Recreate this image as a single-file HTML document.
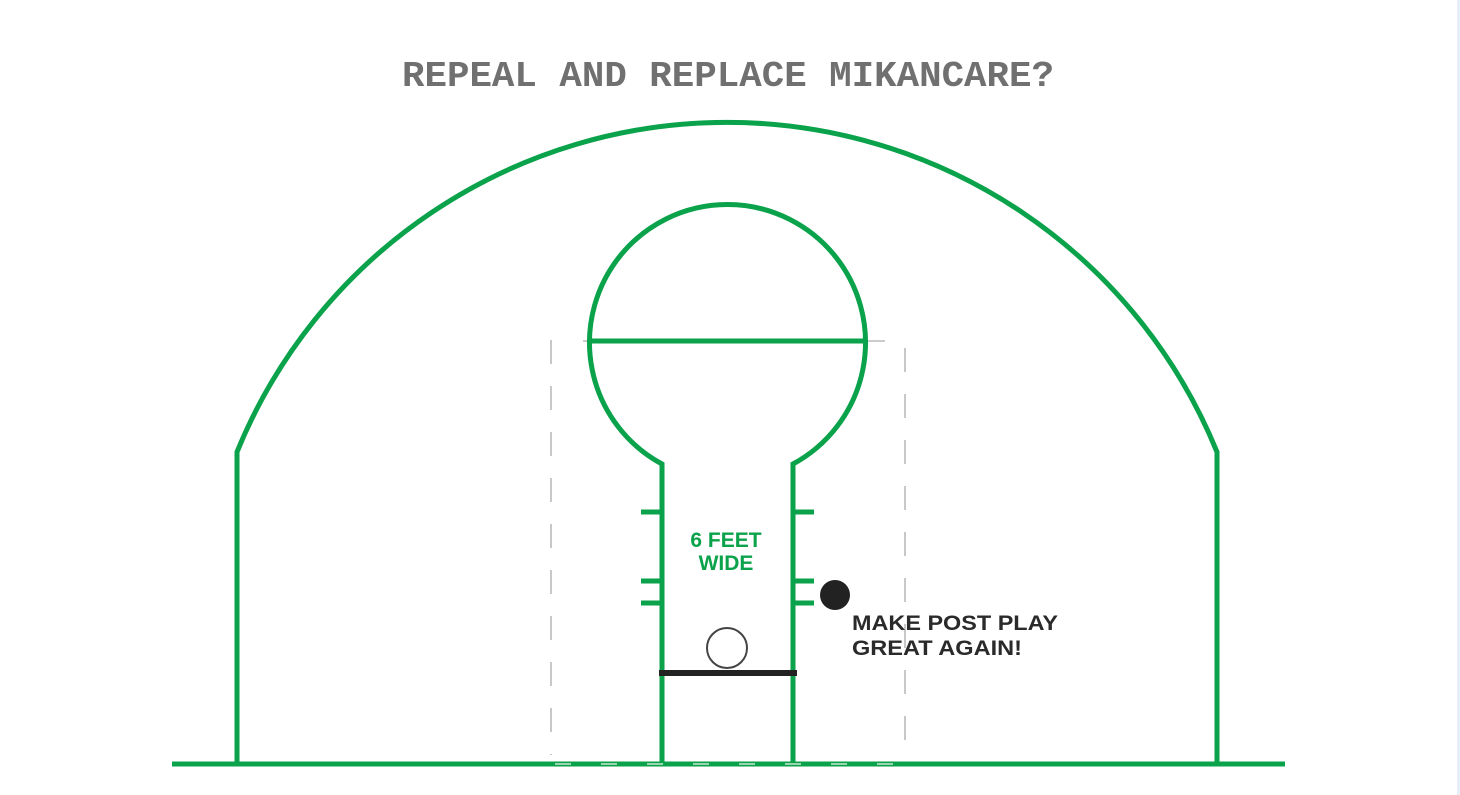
<!DOCTYPE html>
<html><head><meta charset="utf-8"><style>
html,body{margin:0;padding:0;background:#fff;}
body{width:1460px;height:795px;overflow:hidden;position:relative;}
</style></head><body>
<div style="position:absolute;left:1457px;top:0;width:3px;height:795px;background:#e8eef8"></div>
<svg width="1460" height="795" style="position:absolute;left:0;top:0" xmlns="http://www.w3.org/2000/svg">
<text x="728" y="86" text-anchor="middle" font-family="Liberation Mono, monospace" font-weight="bold" font-size="36" fill="#707070" textLength="652" lengthAdjust="spacingAndGlyphs">REPEAL AND REPLACE MIKANCARE?</text>
<g stroke="#c8c8c8" stroke-width="2" stroke-dasharray="24,22" fill="none">
<line x1="551" y1="340" x2="551" y2="755"/>
<line x1="905" y1="348" x2="905" y2="755"/>
</g>
<line x1="583" y1="341" x2="885" y2="341" stroke="#cccccc" stroke-width="2"/>
<g stroke="#0aa24a" stroke-width="5" fill="none">
<path d="M237,764 V452 A529,529 0 0 1 1217,452 V764"/>
<path d="M662,764 V464 A138,138 0 1 1 793,464 V764"/>
<line x1="587" y1="341" x2="863" y2="341"/>
<line x1="641" y1="512" x2="662" y2="512"/>
<line x1="641" y1="581" x2="662" y2="581"/>
<line x1="641" y1="603" x2="662" y2="603"/>
<line x1="793" y1="512" x2="814" y2="512"/>
<line x1="793" y1="581" x2="814" y2="581"/>
<line x1="793" y1="603" x2="814" y2="603"/>
<line x1="172" y1="764" x2="1285" y2="764"/>
</g>
<line x1="555" y1="764" x2="910" y2="764" stroke="#9ad6b0" stroke-width="2" stroke-dasharray="16,30"/>
<line x1="659" y1="673" x2="797" y2="673" stroke="#222" stroke-width="6"/>
<circle cx="727" cy="648" r="20" fill="#fff" stroke="#444" stroke-width="2"/>
<circle cx="835" cy="595" r="15" fill="#222"/>
<g font-family="Liberation Sans, sans-serif" font-weight="bold" fill="#0aa24a" font-size="21" text-anchor="middle">
<text x="726" y="547">6 FEET</text>
<text x="726" y="570">WIDE</text>
</g>
<g font-family="Liberation Sans, sans-serif" font-weight="bold" fill="#2a2a2a" font-size="21">
<text x="852" y="630" textLength="206" lengthAdjust="spacingAndGlyphs">MAKE POST PLAY</text>
<text x="852" y="655" textLength="170" lengthAdjust="spacingAndGlyphs">GREAT AGAIN!</text>
</g>
</svg>
</body></html>
